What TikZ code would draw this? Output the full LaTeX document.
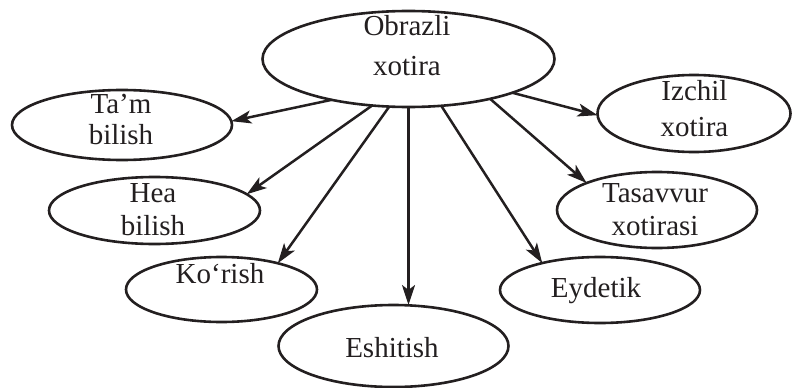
\documentclass[tikz,border=0pt]{standalone}
\usepackage{fontspec}
\setmainfont{Liberation Serif}
\usetikzlibrary{arrows.meta,shapes.geometric}
\definecolor{ink}{HTML}{231F20}
\begin{document}
\begin{tikzpicture}[x=1pt,y=-1pt,
  oval/.style={ellipse,draw=ink,line width=2.6pt,inner sep=0pt,outer sep=0pt},
  txt/.style={anchor=base,inner sep=0pt,text=ink,font=\fontsize{29}{33}\selectfont},
  arr/.style={draw=ink,line width=2.5pt,-{Stealth[length=20pt,width=13pt,inset=5pt]}}]
\useasboundingbox (0,0) rectangle (793,388);
% ellipses
\node[oval,minimum width=292pt,minimum height=96pt] (ob) at (408.5,59) {};
\node[oval,minimum width=220pt,minimum height=70pt] (tam) at (122,125) {};
\node[oval,minimum width=211pt,minimum height=67pt] (hea) at (154.5,210.5) {};
\node[oval,minimum width=191pt,minimum height=65pt] (kor) at (221.5,289.5) {};
\node[oval,minimum width=230pt,minimum height=82pt] (esh) at (393.5,346) {};
\node[oval,minimum width=200pt,minimum height=66pt] (eyd) at (600,290) {};
\node[oval,minimum width=200pt,minimum height=76pt] (tas) at (657,210) {};
\node[oval,minimum width=193pt,minimum height=77pt] (izc) at (694,113.5) {};
% texts
\node[txt] (obA) at (407,35) {Obrazli};
\node[txt] (obB) at (407,75) {xotira};
\node[txt] (tamA) at (121,113) {Ta’m};
\node[txt] (tamB) at (121,144) {bilish};
\node[txt] (heaA) at (153,202) {Hea};
\node[txt] (heaB) at (153,235) {bilish};
\node[txt] (korA) at (220,283) {Ko‘rish};
\node[txt] (eshA) at (392,357) {Eshitish};
\node[txt] (eydA) at (596,297) {Eydetik};
\node[txt] (izcA) at (694.5,100) {Izchil};
\node[txt] (izcB) at (694.5,136) {xotira};
\node[txt] (tasA) at (655,202) {Tasavvur};
\node[txt] (tasB) at (655,235) {xotirasi};
% arrows
\draw[arr] (ob.208.5) -- (tam.2);
\draw[arr] (ob.232.2) -- (hea.10.6);
\draw[arr] (ob.248.5) -- (kor.25.6);
\draw[arr] (ob.south) -- (ob.south |- esh.north);
\draw[arr] (ob.305.5) -- (eyd.155.2);
\draw[arr] (ob.334.2) -- (tas.159.8);
\draw[arr] (ob.342.6) -- (izc.181);
\end{tikzpicture}
\end{document}
